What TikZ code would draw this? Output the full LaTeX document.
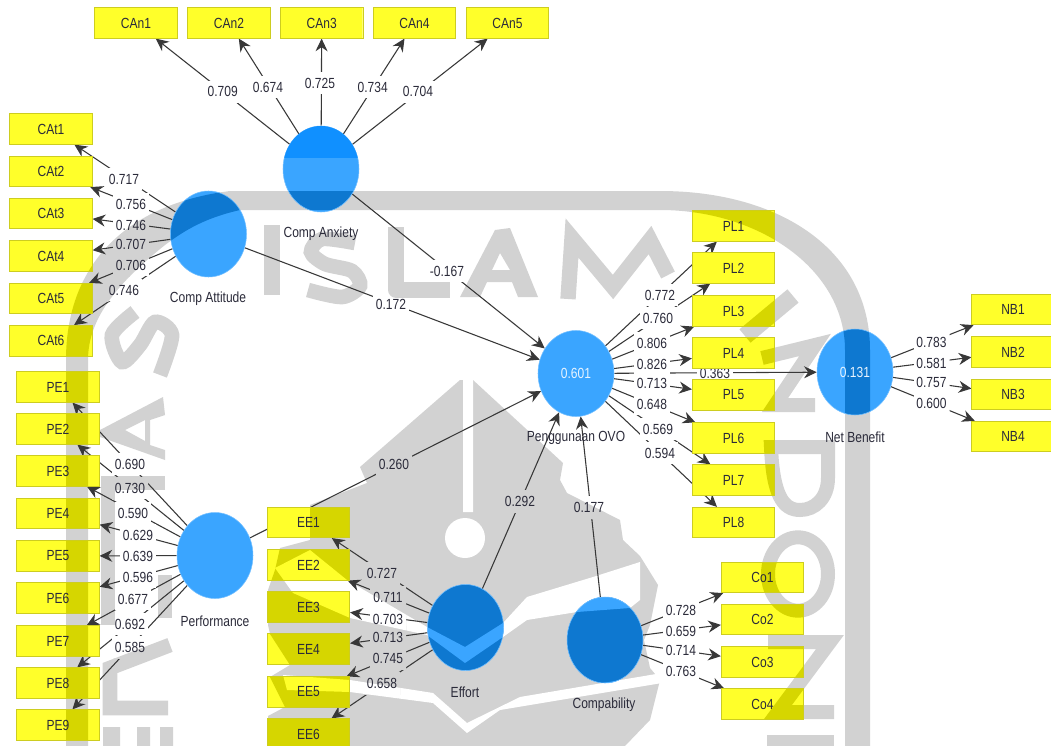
\documentclass[tikz,border=0pt]{standalone}
\usepackage{fontspec}
\setmainfont[FakeStretch=0.82]{Liberation Sans}
\usetikzlibrary{shapes.geometric,arrows.meta}
\definecolor{wmG}{HTML}{D2D2D2}
\definecolor{wmY}{HTML}{D6D600}
\definecolor{boxY}{HTML}{FFFF2A}
\definecolor{boxB}{HTML}{CDCD20}
\definecolor{cirL}{HTML}{3AA5FF}
\definecolor{cirD}{HTML}{0E78D0}
\definecolor{cirM}{HTML}{1090FF}
\definecolor{lineC}{HTML}{383838}
\definecolor{txtC}{HTML}{2B2B3A}
\pgfdeclarelayer{base}\pgfdeclarelayer{conn}\pgfdeclarelayer{lab}
\pgfsetlayers{base,conn,lab,main}
\tikzset{
  box/.style={draw=boxB,line width=0.6pt,minimum width=61.8pt,minimum height=22.8pt,inner sep=0pt,text=txtC,font=\fontsize{11}{12}\selectfont},
  lv/.style={ellipse,draw=cirL!70!white,line width=0.4pt,minimum width=57pt,minimum height=64.5pt,inner sep=0pt,text=white!88!cirL,font=\fontsize{11}{12}\selectfont},
  captxt/.style={text=txtC,inner sep=0pt,font=\fontsize{11}{12}\selectfont},
  numtxt/.style={text=txtC,inner sep=0pt,font=\fontsize{11}{12}\selectfont},
  linkarrow/.style={draw=lineC,line width=0.8pt,-{Stealth[length=9.5pt,width=9pt]}},
}
% the watermark: #1 ink, #2 the colour it leaves open
\newcommand\wmshapes[2]{%
  % ring
  \fill[#1] (66,746) -- (66,360) .. controls (66,270) and (120,205) .. (230,191) -- (660,191)
     .. controls (780,191) and (870,250) .. (870,350) -- (870,746) -- (845,746) -- (845,350)
     .. controls (845,270) and (760,210) .. (660,210) -- (240,210)
     .. controls (205,218) and (185,230) .. (165,245) .. controls (115,285) and (88,320) .. (88,360) -- (88,746) -- cycle;
  % ISLAM
  \draw[#1,line width=11.5pt,line join=round] (272,225) -- (272,295)
     (396,227) -- (396,290) -- (450,290);
  \draw[#1,line width=11pt] plot[smooth] coordinates {(355,243) (322,239) (311,252) (325,264) (352,271) (360,286) (342,297) (308,290)};
  \fill[#1,even odd rule] (460,297) -- (495,230) -- (510,228) -- (538,297) -- (518,297) -- (512,282) -- (487,282) -- (480,297) -- cycle
     (500,253) -- (492,270) -- (510,270) -- cycle;
  \draw[#1,line width=11.5pt] (568,299) -- (572,238) -- (613,287) -- (650,240) -- (668,275);
  % right-hand letters
  \draw[#1,line width=13pt] (793,296) -- (745,336);
  \draw[#1,line width=10.5pt] (762,358) -- (815,345) -- (775,405) -- (815,405);
  \draw[#1,line width=10.5pt] (771,447) -- (828,447) -- (828,478) .. controls (828,498) and (815,510) .. (800,510) .. controls (783,510) and (773,495) .. (771,447) -- cycle;
  \draw[#1,line width=10.5pt] (798,574) ellipse [x radius=22.5pt,y radius=27.5pt];
  \draw[#1,line width=10.5pt] (768,642) -- (830,642) -- (778,712) -- (834,712);
  \fill[#1] (767,735) rectangle (834,746);
  % left-hand letters
  \draw[#1,line width=11pt] plot[smooth] coordinates {(135,312) (112,335) (122,362) (140,345) (155,322) (172,335) (160,375)};
  \fill[#1,even odd rule] (100,430) -- (163,397) -- (165,415) -- (150,420) -- (150,445) -- (165,450) -- (165,460) -- (100,437) -- cycle
     (125,430) -- (145,420) -- (145,441) -- cycle;
  \draw[#1,line width=11pt] (165,483) -- (108,483) -- (108,625) (165,575) -- (165,618);
  \draw[#1,line width=11pt] (170,645) -- (110,668) -- (110,708) -- (168,708);
  \fill[#1] (103,727) rectangle (120,746) (137,727) rectangle (150,746) (160,727) rectangle (173,746);
  % emblem
  \fill[#1] (460,380) -- (473,380) -- (563,463) -- (560,480) -- (567,493) -- (620,520) -- (623,540) -- (640,556)
     -- (658,585) -- (650,625) -- (644,640) -- (650,668) -- (660,680) -- (650,720) -- (625,746) -- (268,746)
     -- (268,716) -- (285,707) -- (270,677) -- (290,665) -- (270,634) -- (268,625) -- (268,590) -- (275,570)
     -- (280,548) -- (310,540) -- (310,505) -- (367,483) -- (360,467) -- cycle;
  \fill[#2] (463,380) rectangle (473,512) (465,538) circle [radius=15pt];
  \fill[#2] (503,623) -- (527,597) -- (593,577) -- (640,562) -- (640,600) -- (630,608) -- (577,612) -- (527,620)
     -- (503,637) -- (465,663) -- (427,635) -- (350,618) -- (293,593) -- (275,568) -- (310,550) -- (347,580) -- (427,627) -- (465,647) -- cycle;
  \fill[#2] (283,675) -- (350,680) -- (433,693) -- (467,723) -- (520,697) -- (662,673) -- (662,683) -- (500,710)
     -- (467,733) -- (433,703) -- (350,692) -- (287,690) -- cycle;
}
\newcommand\mkbox[4]{%
  \begin{scope}
    \clip (#2-41,#3-15.2) rectangle (#2+41,#3+15.2);
    \fill[boxY] (#2-41,#3-15.2) rectangle (#2+41,#3+15.2);
    \wmshapes{wmY}{boxY}
  \end{scope}
  \node[box] (#1) at (#2,#3) {#4};}
\newcommand\mkcirc[4]{%
  \begin{scope}
    \clip (#2,#3) ellipse [x radius=28.5pt,y radius=32.25pt];
    \fill[cirL] (#2-40,#3-45) rectangle (#2+40,#3+45);
    \wmshapes{cirD}{cirL}
  \end{scope}
  \node[lv] (#1) at (#2,#3) {#4};}
\newcommand\mklab[4]{%
  \begin{scope}
    \clip (#2-18,#3-11) rectangle (#2+18,#3+11);
    \fill[white] (#2-18,#3-11) rectangle (#2+18,#3+11);
    \wmshapes{wmG}{white}
  \end{scope}
  \node[numtxt] (#1) at (#2,#3) {#4};}
\begin{document}
\begin{tikzpicture}[x=0.75pt,y=-0.75pt]
\useasboundingbox (0,0) rectangle (1051,746);
\begin{pgfonlayer}{base}
  \fill[white] (0,0) rectangle (1051,746);
  \wmshapes{wmG}{white}
\end{pgfonlayer}
% indicators
\mkbox{CAn1}{136}{23}{CAn1}
\mkbox{CAn2}{229}{23}{CAn2}
\mkbox{CAn3}{321.7}{23}{CAn3}
\mkbox{CAn4}{414.5}{23}{CAn4}
\mkbox{CAn5}{507.5}{23}{CAn5}
\mkbox{CAt1}{51}{129}{CAt1}
\mkbox{CAt2}{51}{171.5}{CAt2}
\mkbox{CAt3}{51}{213.5}{CAt3}
\mkbox{CAt4}{51}{256}{CAt4}
\mkbox{CAt5}{51}{298.5}{CAt5}
\mkbox{CAt6}{51}{340.7}{CAt6}
\mkbox{PE1}{58}{387}{PE1}
\mkbox{PE2}{58}{429}{PE2}
\mkbox{PE3}{58}{471}{PE3}
\mkbox{PE4}{58}{513.5}{PE4}
\mkbox{PE5}{58}{556}{PE5}
\mkbox{PE6}{58}{598}{PE6}
\mkbox{PE7}{58}{641}{PE7}
\mkbox{PE8}{58}{683}{PE8}
\mkbox{PE9}{58}{725}{PE9}
\mkbox{EE1}{308.5}{522.5}{EE1}
\mkbox{EE2}{308.5}{565}{EE2}
\mkbox{EE3}{308.5}{607}{EE3}
\mkbox{EE4}{308.5}{649}{EE4}
\mkbox{EE5}{308.5}{692}{EE5}
\mkbox{EE6}{308.5}{734}{EE6}
\mkbox{PL1}{733.5}{226}{PL1}
\mkbox{PL2}{733.5}{268}{PL2}
\mkbox{PL3}{733.5}{311}{PL3}
\mkbox{PL4}{733.5}{353}{PL4}
\mkbox{PL5}{733.5}{395}{PL5}
\mkbox{PL6}{733.5}{438}{PL6}
\mkbox{PL7}{733.5}{480}{PL7}
\mkbox{PL8}{733.5}{522.5}{PL8}
\mkbox{NB1}{1013}{309.5}{NB1}
\mkbox{NB2}{1013}{352}{NB2}
\mkbox{NB3}{1013}{394.5}{NB3}
\mkbox{NB4}{1013}{436.5}{NB4}
\mkbox{Co1}{762.5}{577.5}{Co1}
\mkbox{Co2}{762.5}{619.5}{Co2}
\mkbox{Co3}{762.5}{662}{Co3}
\mkbox{Co4}{762.5}{704}{Co4}
% latent variables
\mkcirc{anx}{321}{169}{}
\begin{scope}
  \clip (321,169) ellipse [x radius=28.5pt,y radius=32.25pt];
  \fill[cirM] (283,126) rectangle (359,158);
\end{scope}
\mkcirc{att}{208.5}{234}{}
\mkcirc{perf}{215}{555.5}{}
\mkcirc{eff}{465.5}{627.5}{}
\mkcirc{comp}{605}{640}{}
\mkcirc{ovo}{576}{373.5}{0.601}
\mkcirc{nb}{855}{372}{0.131}
% captions
\node[captxt] (capAnx) at (321,234) {Comp Anxiety};
\node[captxt] (capAtt) at (208,299) {Comp Attitude};
\node[captxt] (capPerf) at (215,621) {Performance};
\node[captxt] (capOvo) at (576,438) {Penggunaan OVO};
\node[captxt] (capNb) at (855,437) {Net Benefit};
\node[captxt] (capEff) at (465,692) {Effort};
\node[captxt] (capComp) at (604,705) {Compability};
% connectors
\begin{pgfonlayer}{conn}
  \foreach \a/\b in {anx/CAn1,anx/CAn2,anx/CAn3,anx/CAn4,anx/CAn5,
    att/CAt1,att/CAt2,att/CAt3,att/CAt4,att/CAt5,att/CAt6,
    perf/PE1,perf/PE2,perf/PE3,perf/PE4,perf/PE5,perf/PE6,perf/PE7,perf/PE8,perf/PE9,
    eff/EE1,eff/EE2,eff/EE3,eff/EE4,eff/EE5,eff/EE6,
    ovo/PL1,ovo/PL2,ovo/PL3,ovo/PL4,ovo/PL5,ovo/PL6,ovo/PL7,ovo/PL8,
    nb/NB1,nb/NB2,nb/NB3,nb/NB4,
    comp/Co1,comp/Co2,comp/Co3,comp/Co4,
    anx/ovo,att/ovo,perf/ovo,eff/ovo,comp/ovo,ovo/nb}
    \draw[linkarrow] (\a) -- (\b);
\end{pgfonlayer}
% loadings and path coefficients
\begin{pgfonlayer}{lab}
\mklab{a1}{222.7}{91.7}{0.709}
\mklab{a2}{268}{87}{0.674}
\mklab{a3}{320}{83}{0.725}
\mklab{a4}{372.7}{87}{0.734}
\mklab{a5}{418}{91.7}{0.704}
\mklab{t1}{124}{179}{0.717}
\mklab{t2}{131}{204}{0.756}
\mklab{t3}{131}{225}{0.746}
\mklab{t4}{131}{244}{0.707}
\mklab{t5}{131}{265}{0.706}
\mklab{t6}{124}{290}{0.746}
\mklab{p1}{130}{464}{0.690}
\mklab{p2}{130}{488}{0.730}
\mklab{p3}{133}{513}{0.590}
\mklab{p4}{138}{535}{0.629}
\mklab{p5}{138}{556}{0.639}
\mklab{p6}{138}{577}{0.596}
\mklab{p7}{133}{599}{0.677}
\mklab{p8}{130}{624}{0.692}
\mklab{p9}{130}{647}{0.585}
\mklab{e1}{382}{573}{0.727}
\mklab{e2}{388}{597}{0.711}
\mklab{e3}{388}{619}{0.703}
\mklab{e4}{388}{637}{0.713}
\mklab{e5}{388}{658}{0.745}
\mklab{e6}{382}{683}{0.658}
\mklab{l1}{660}{295}{0.772}
\mklab{l2}{658}{318}{0.760}
\mklab{l3}{652}{343}{0.806}
\mklab{l4}{652}{364}{0.826}
\mklab{l5}{652}{383}{0.713}
\mklab{l6}{652}{404}{0.648}
\mklab{l7}{658}{429}{0.569}
\mklab{l8}{660}{453}{0.594}
\mklab{n1}{931.5}{342}{0.783}
\mklab{n2}{931.5}{363}{0.581}
\mklab{n3}{931.5}{382}{0.757}
\mklab{n4}{931.5}{403}{0.600}
\mklab{c1}{681}{610}{0.728}
\mklab{c2}{681}{631}{0.659}
\mklab{c3}{681}{650}{0.714}
\mklab{c4}{681}{671}{0.763}
\mklab{s1}{447}{271}{-0.167}
\mklab{s2}{391}{304}{0.172}
\mklab{s3}{394}{464}{0.260}
\mklab{s4}{520}{501}{0.292}
\mklab{s5}{589}{507}{0.177}
\mklab{s6}{715}{373}{0.363}
\end{pgfonlayer}
\end{tikzpicture}
\end{document}
